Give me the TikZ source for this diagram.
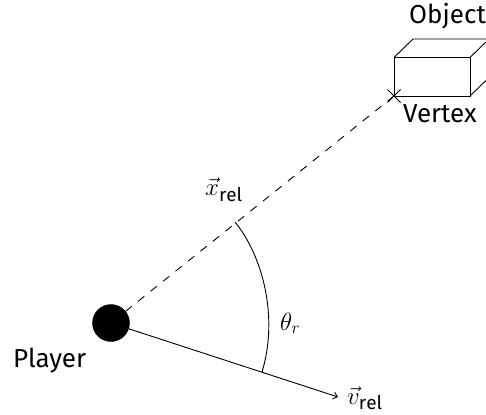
\documentclass[tikz,border=0pt]{standalone}
\usepackage{fontspec}
\setmainfont{Fira Sans}
\setsansfont{Fira Sans}
\usetikzlibrary{arrows.meta,calc}
\tikzset{
  x=1pt,y=-1pt,
  linework/.style={line width=0.9pt,black},
  txt/.style={inner sep=0pt,font=\fontsize{26}{30}\selectfont},
  mathtxt/.style={inner sep=0pt,font=\fontsize{27}{31}\selectfont},
  dashline/.style={linework,dash pattern=on 8pt off 8pt}
}
\begin{document}
\begin{tikzpicture}
\useasboundingbox (0,0) rectangle (486,414);
\clip (0,0) rectangle (486,414);
\coordinate (vertex) at (394,96);
\coordinate (ftl) at (394,57.5);
\coordinate (ftr) at (470,57.5);
\coordinate (fbr) at (470,96);
\coordinate (btl) at (413,39);
\coordinate (btr) at (489,39);
\coordinate (ctr) at (489,39);
\coordinate (cbr) at (489,77.5);
\coordinate (arrowend) at (338,397);
\coordinate (arcA) at (235,222);
\coordinate (arcB) at (262,372);
\node[circle,fill=black,draw=black,minimum size=37pt,inner sep=0pt] (player) at (111,323) {};
\draw[dashline] (player) -- (vertex);
\draw[linework,-{Straight Barb[length=4pt,width=7pt]}] (player) -- (arrowend);
\draw[linework] (vertex) rectangle (ftr);
\draw[linework] (ftl) -- (btl) -- (btr);
\draw[linework] (ftr) -- (ctr);
\draw[linework] (fbr) -- (cbr);
\draw[linework] (387.5,89.5) -- (400.5,102.5) (387.5,102.5) -- (400.5,89.5);
\draw[linework] (arcA) .. controls (262,255) and (279,316) .. (arcB);
\node[txt,anchor=base west] (object) at (409,24) {Object};
\node[txt,anchor=base west] (vlabel) at (403,123) {Vertex};
\node[txt,anchor=base west] (playerlabel) at (13,367.5) {Player};
\node[mathtxt,anchor=base west] (xrel) at (205,195.5) {$\vec{x}_{\mathsf{rel}}$};
\node[mathtxt,anchor=base west] (vrel) at (347,404) {$\vec{v}_{\mathsf{rel}}$};
\node[mathtxt,anchor=base west] (theta) at (280,330) {$\theta_r$};
\end{tikzpicture}
\end{document}
